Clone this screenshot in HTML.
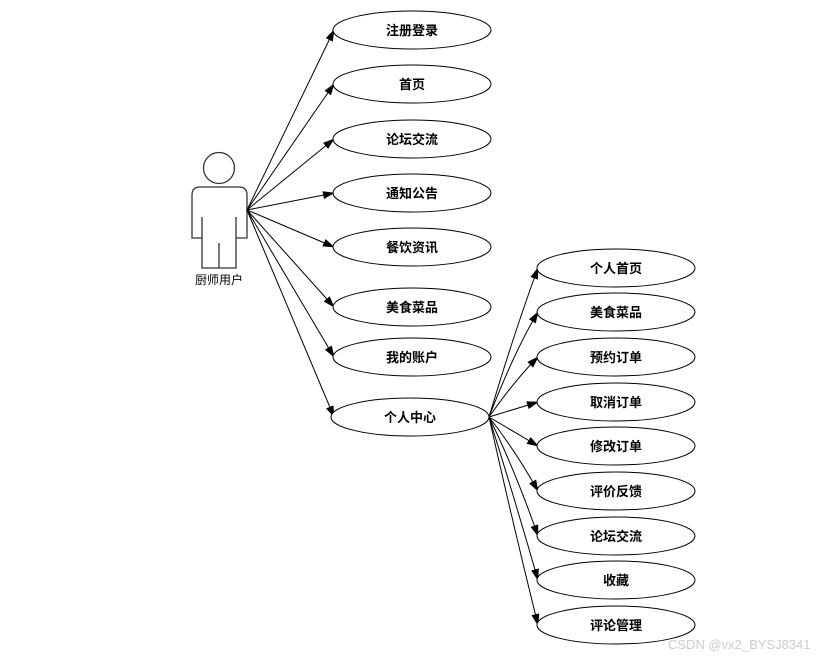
<!DOCTYPE html>
<html><head><meta charset="utf-8"><style>
body{margin:0;background:#fff}
text{font-family:"Liberation Sans","Noto Sans CJK SC",sans-serif}
</style></head><body>
<svg width="837" height="660" xmlns="http://www.w3.org/2000/svg">
<defs><marker id="a" markerWidth="12" markerHeight="8" refX="11" refY="4" orient="auto" markerUnits="userSpaceOnUse"><path d="M0,0 L12,4 L0,8 Z" fill="#000"/></marker></defs>
<g fill="none" stroke="#333" stroke-width="1.3">
<circle cx="219" cy="168" r="15.5" fill="#fff"/>
<path d="M192,238 L192,195 Q192,187 200,187 L239,187 Q247,187 247,195 L247,238 L236,238 L236,268 L202,268 L202,238 Z" fill="#fff"/>
<path d="M202,217 L202,238 M236,217 L236,238 M219,243 L219,268"/>
</g>
<text x="219" y="284" font-size="12" text-anchor="middle">厨师用户</text>
<g stroke="#000" stroke-width="1" fill="none" marker-end="url(#a)">
<line x1="247" y1="210" x2="334" y2="30"/>
<line x1="247" y1="210" x2="334" y2="84"/>
<line x1="247" y1="210" x2="334" y2="139"/>
<line x1="247" y1="210" x2="334" y2="193"/>
<line x1="247" y1="210" x2="334" y2="247"/>
<line x1="247" y1="210" x2="334" y2="307"/>
<line x1="247" y1="210" x2="334" y2="357"/>
<line x1="247" y1="210" x2="334" y2="417"/>
<path d="M489,417 Q515,330 538,268"/>
<path d="M489,417 Q515,350 538,312"/>
<path d="M489,417 Q515,380 538,357"/>
<line x1="489" y1="417" x2="538" y2="402"/>
<line x1="489" y1="417" x2="538" y2="446"/>
<path d="M489,417 Q515,450 538,491"/>
<path d="M489,417 Q515,470 538,536"/>
<path d="M489,417 Q515,500 538,580"/>
<path d="M489,417 Q512,520 538,625"/>
</g>
<g fill="#fff" stroke="#000" stroke-width="1">
<ellipse cx="412" cy="30" rx="79" ry="19"/>
<ellipse cx="412" cy="84" rx="79" ry="19"/>
<ellipse cx="412" cy="139" rx="79" ry="19"/>
<ellipse cx="412" cy="193" rx="79" ry="19"/>
<ellipse cx="412" cy="247" rx="79" ry="19"/>
<ellipse cx="412" cy="307" rx="79" ry="19"/>
<ellipse cx="412" cy="357" rx="79" ry="19"/>
<ellipse cx="410" cy="417" rx="79" ry="19"/>
<ellipse cx="616" cy="268" rx="79" ry="19"/>
<ellipse cx="616" cy="312" rx="79" ry="19"/>
<ellipse cx="616" cy="357" rx="79" ry="19"/>
<ellipse cx="616" cy="402" rx="79" ry="19"/>
<ellipse cx="616" cy="446" rx="79" ry="19"/>
<ellipse cx="616" cy="491" rx="79" ry="19"/>
<ellipse cx="616" cy="536" rx="79" ry="19"/>
<ellipse cx="616" cy="580" rx="79" ry="19"/>
<ellipse cx="616" cy="625" rx="79" ry="19"/>
</g>
<g font-size="13" font-weight="bold" text-anchor="middle">
<text x="412" y="35">注册登录</text>
<text x="412" y="89">首页</text>
<text x="412" y="144">论坛交流</text>
<text x="412" y="198">通知公告</text>
<text x="412" y="252">餐饮资讯</text>
<text x="412" y="312">美食菜品</text>
<text x="412" y="362">我的账户</text>
<text x="410" y="422">个人中心</text>
<text x="616" y="273">个人首页</text>
<text x="616" y="317">美食菜品</text>
<text x="616" y="362">预约订单</text>
<text x="616" y="407">取消订单</text>
<text x="616" y="451">修改订单</text>
<text x="616" y="496">评价反馈</text>
<text x="616" y="541">论坛交流</text>
<text x="616" y="585">收藏</text>
<text x="616" y="630">评论管理</text>
</g>
<text x="668" y="649" font-size="13" fill="#ccc">CSDN @vx2_BYSJ8341</text>
</svg>
</body></html>
